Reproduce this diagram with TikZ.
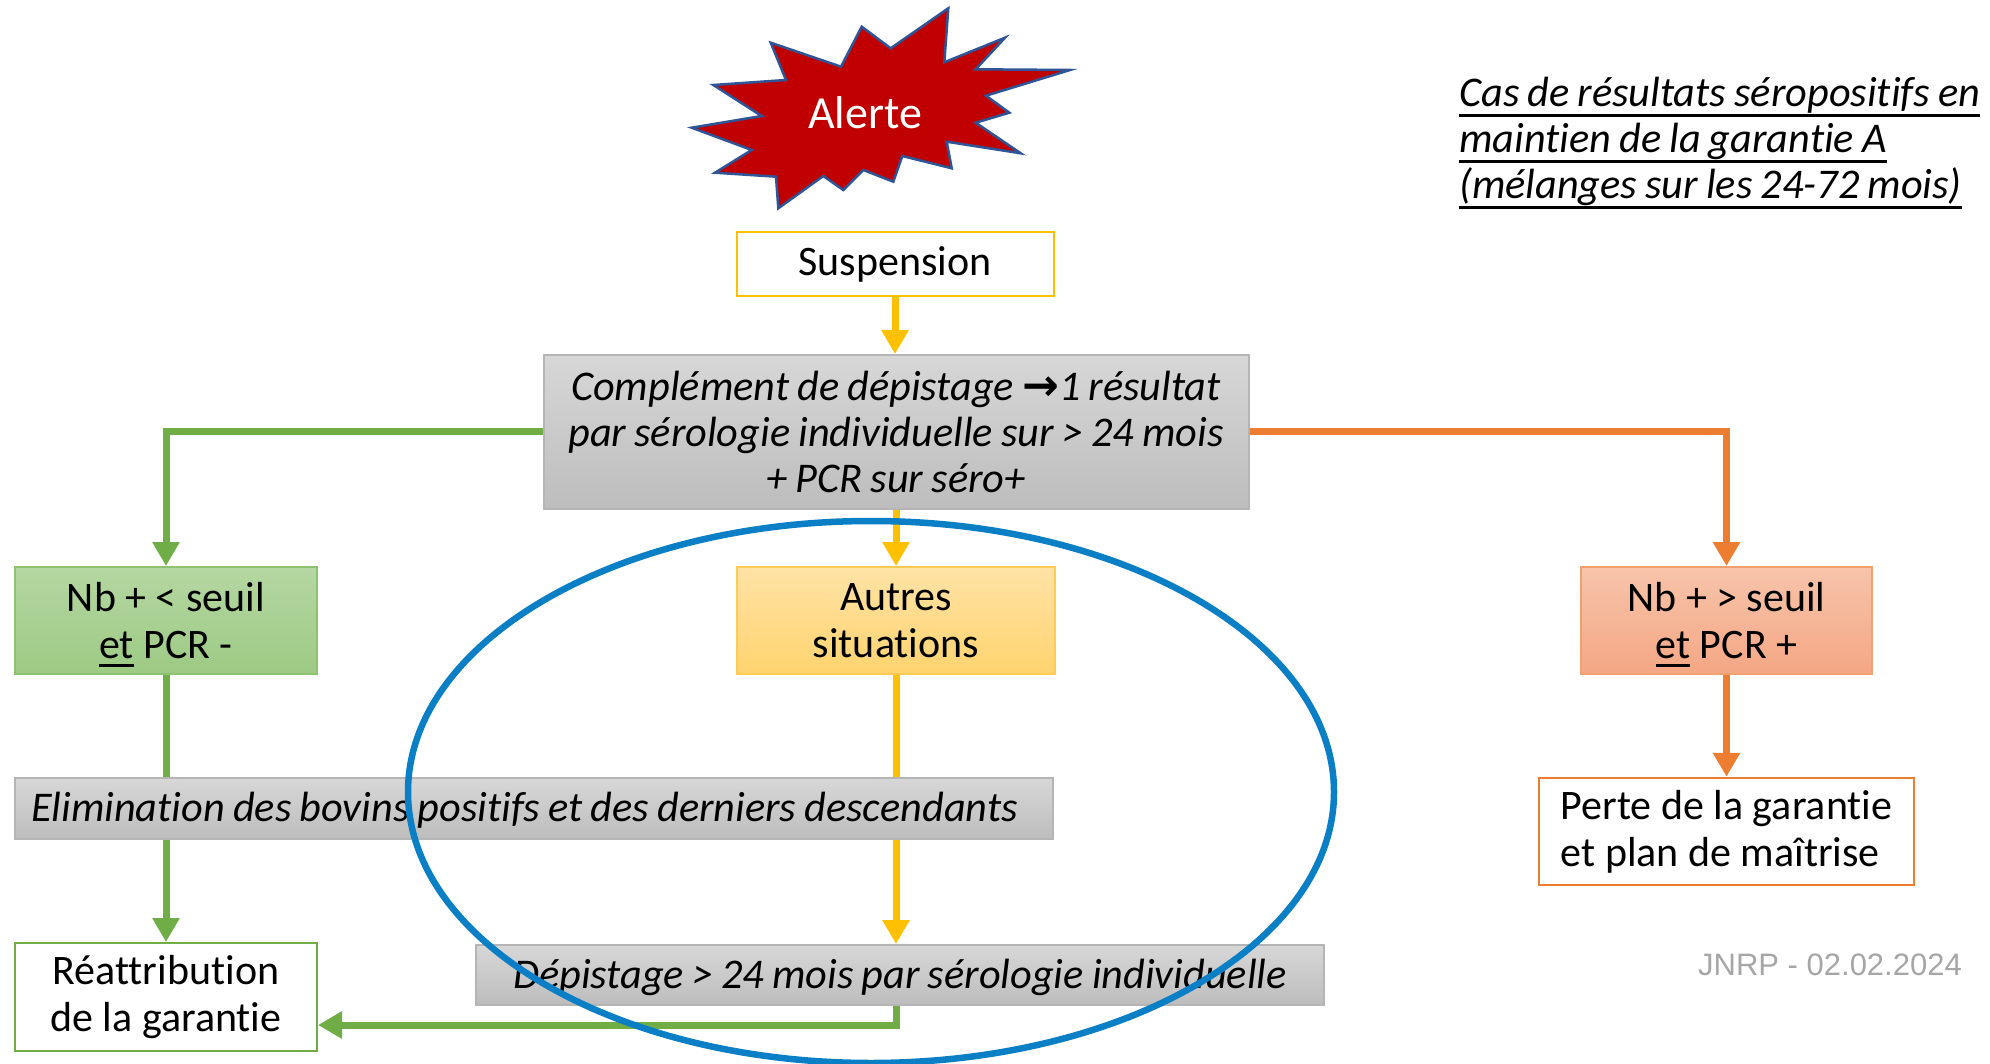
\documentclass[tikz,border=0pt]{standalone}
\usepackage{fontspec}
\setmainfont{Carlito}[Ligatures=NoCommon, ItalicFeatures={WordSpace=0.85}]
\newfontfamily\arialf{Liberation Sans}
\newfontfamily\djv{DejaVu Sans}
\usetikzlibrary{arrows.meta}
\pgfdeclarelayer{bg}
\pgfsetlayers{bg,main}
\definecolor{cyel}{HTML}{FFC000}
\definecolor{cgrn}{HTML}{70AD47}
\definecolor{corg}{HTML}{ED7D31}
\definecolor{cblue}{HTML}{0A7FC6}
\definecolor{cred}{HTML}{C00000}
\definecolor{cstar}{HTML}{2F5597}
\definecolor{gtop}{HTML}{D7D7D7}
\definecolor{gbot}{HTML}{BDBDBD}
\definecolor{gbrd}{HTML}{B5B5B5}
\definecolor{vtop}{HTML}{B5D7A2}
\definecolor{vbot}{HTML}{9DCA84}
\definecolor{vbrd}{HTML}{8CC270}
\definecolor{otop}{HTML}{F7C4AB}
\definecolor{obot}{HTML}{F4A784}
\definecolor{obrd}{HTML}{F2A070}
\definecolor{ytop}{HTML}{FFE3A6}
\definecolor{ybot}{HTML}{FFD36E}
\definecolor{ybrd}{HTML}{FFCB55}
\definecolor{jgray}{HTML}{A6A6A6}
\newcommand\fsz[2]{\fontsize{#1}{#2}\selectfont}
% thick underline: #1 = distance below baseline (top of rule), #2 = bottom
\newcommand\myul[3]{\setbox0\hbox{#3}\rlap{\smash{\vrule width\wd0 height -#1 depth #2}}\box0\relax}
\tikzset{
  boxbase/.style={inner sep=0pt, align=center, line width=2pt, font=\fsz{42}{47}},
  whitebox/.style={boxbase, fill=white, draw=#1},
  gradbox/.style n args={3}{boxbase, draw=#1, top color=#2, bottom color=#3},
  greybox/.style={gradbox={gbrd}{gtop}{gbot}, font=\itshape\fsz{42.3}{46}},
  oneline/.style={text height=34pt, text depth=8pt},
  conn/.style={line width=7pt, -{Triangle[width=26pt,length=24pt]}},
}
\begin{document}
\begin{tikzpicture}[x=1pt,y=-1pt]
\useasboundingbox (0,0) rectangle (1990,1064);
% star
\draw[fill=cred, draw=cstar, line width=2.5pt, line join=miter]
  (691.7,127.7) -- (761.7,116) -- (713.3,85) -- (786,80) -- (770.7,42.7)
  -- (841,66.7) -- (861.7,26.7) -- (890.7,48.3) -- (948.3,8.3) -- (944.3,62.3)
  -- (1005,37.7) -- (975.7,69.3) -- (1070,70) -- (986,95.7) -- (1009.3,112.7)
  -- (975.7,122.7) -- (1020.7,153.3) -- (946.7,141.7) -- (951.7,168.3)
  -- (902.3,156) -- (893.3,181.7) -- (863.3,170) -- (843.3,190) -- (823.3,176)
  -- (778.3,208.3) -- (776,176.7) -- (715,172.7) -- (751.7,150) -- cycle;
\node[text=white, font=\fsz{46}{50}] (alerte) at (865,113) {Alerte};

% title
\node[anchor=west, align=left, inner sep=0pt, font=\itshape\fsz{42.3}{46}] (titre) at (1459,141)
  {\myul{8pt}{10.5pt}{Cas de résultats séropositifs en}\\\myul{8pt}{10.5pt}{maintien de la garantie A}\\\myul{8pt}{10.5pt}{(mélanges sur les 24-72 mois)}};

% boxes
\node[whitebox=cyel, minimum width=317pt, minimum height=64pt] (susp) at (895,264) {Suspension};
\node[greybox, minimum width=705pt, minimum height=154pt] (comp) at (896,432)
  {Complément de dépistage {\upshape\djv\bfseries\fsz{44}{46}→}1 résultat\\par sérologie individuelle sur > 24 mois\\+ PCR sur séro+};
\node[gradbox={vbrd}{vtop}{vbot}, minimum width=302pt, minimum height=107pt] (nbl) at (166,620.5)
  {Nb + < seuil\\\myul{6pt}{8.5pt}{et} PCR -};
\node[gradbox={ybrd}{ytop}{ybot}, minimum width=318pt, minimum height=107pt] (aut) at (896,620.5)
  {Autres\\situations};
\node[gradbox={obrd}{otop}{obot}, minimum width=291pt, minimum height=107pt] (nbr) at (1726.5,620.5)
  {Nb + > seuil\\\myul{6pt}{8.5pt}{et} PCR +};
\node[greybox, oneline, align=flush left, text width=1006pt, inner xsep=16pt, minimum height=61pt] (elim) at (534,808.5)
  {Elimination des bovins positifs et des derniers descendants};
\node[whitebox=corg, line width=2.5pt, align=left, minimum width=375pt, minimum height=107pt] (perte) at (1726.5,831.5)
  {Perte de la garantie\\et plan de maîtrise};
\node[whitebox=cgrn, minimum width=302pt, minimum height=108pt] (reat) at (166,997)
  {Réattribution\\de la garantie};
\node[greybox, oneline, minimum width=848pt, minimum height=60pt] (dep) at (900,975)
  {Dépistage > 24 mois par sérologie individuelle};

\node[text=jgray, font=\arialf\fsz{31}{36}] (jnrp) at (1830,965) {JNRP - 02.02.2024};

% connectors
\begin{pgfonlayer}{bg}
\draw[conn, cyel] (susp.south) -- (susp.south |- comp.north);
\draw[conn, cyel] (comp.south) -- (comp.south |- aut.north);
\draw[conn, cgrn] (comp.west) -| (nbl.north);
\draw[conn, corg] (comp.east) -| (nbr.north);
\draw[conn, cgrn] (nbl.south) -- (reat.north);
\draw[conn, cyel] (aut.south) -- (aut.south |- dep.north);
\draw[conn, cgrn] (aut.south |- dep.south) |- ([yshift=-28pt]reat.east);
\draw[conn, corg] (nbr.south) -- (perte.north);
\end{pgfonlayer}

% ellipse
\draw[cblue, line width=6.5pt] (871,792) ellipse [x radius=463, y radius=271];
\end{tikzpicture}
\end{document}
